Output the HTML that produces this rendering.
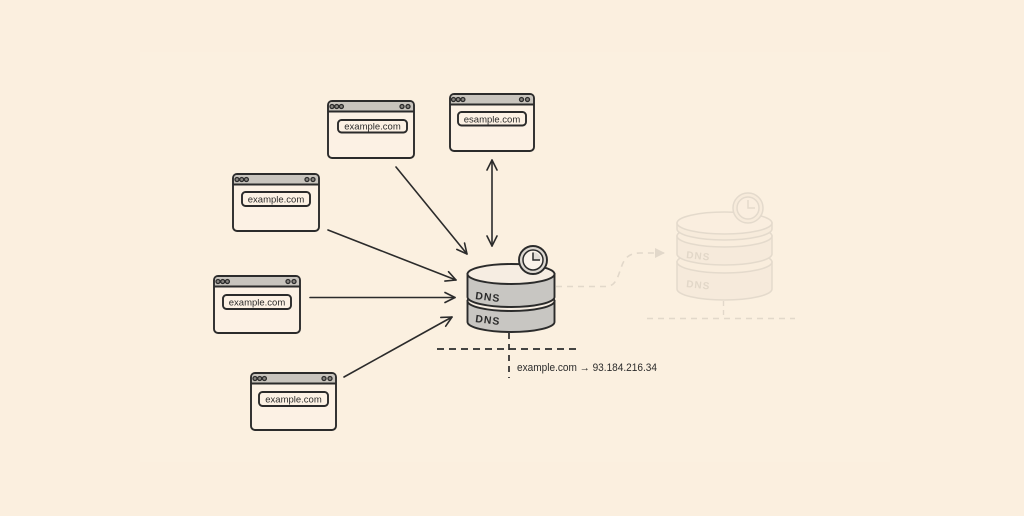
<!DOCTYPE html>
<html>
<head>
<meta charset="utf-8">
<style>
  html, body { margin: 0; padding: 0; }
  body { width: 1024px; height: 516px; background: #fbefdf; overflow: hidden; }
  svg { display: block; }
  text { font-family: "Liberation Sans", "DejaVu Sans", sans-serif; }
</style>
</head>
<body>
<svg width="1024" height="516" viewBox="0 0 1024 516" xmlns="http://www.w3.org/2000/svg">
  <defs>
    <marker id="ah" viewBox="0 0 12 12" refX="11" refY="6" markerWidth="12" markerHeight="12" markerUnits="userSpaceOnUse" orient="auto-start-reverse">
      <path d="M1,1 L11,6 L1,11" fill="none" stroke="#2b2b2b" stroke-width="1.6" stroke-linecap="round" stroke-linejoin="round"/>
    </marker>
    <marker id="ahf" viewBox="0 0 12 12" refX="10" refY="6" markerWidth="12" markerHeight="12" markerUnits="userSpaceOnUse" orient="auto">
      <path d="M1,1 L11,6 L1,11 Z" fill="#e2d8ca" stroke="none"/>
    </marker>
  </defs>

  <rect x="0" y="0" width="1024" height="516" fill="#fbefdf"/>
  <rect x="140" y="52" width="750" height="410" fill="#fcf0e1" opacity="0.6"/>

  <!-- Windows -->
  <g stroke="#2b2b2b" stroke-width="1.9" fill="#fcf1e4">
    <g>
      <rect x="328" y="101" width="86" height="57" rx="4"/>
      <path d="M329,111.5 L413,111.5 L413,105 Q413,102 410,102 L332,102 Q329,102 329,105 Z" fill="#c8c4bd" stroke="none"/>
      <line x1="328" y1="111.5" x2="414" y2="111.5"/>
      <rect x="338" y="120" width="69" height="12.5" rx="3.5"/>
    </g>
    <g>
      <rect x="450" y="94" width="84" height="57" rx="4"/>
      <path d="M451,104.5 L533,104.5 L533,98 Q533,95 530,95 L454,95 Q451,95 451,98 Z" fill="#c8c4bd" stroke="none"/>
      <line x1="450" y1="104.5" x2="534" y2="104.5"/>
      <rect x="458" y="112" width="68" height="13.5" rx="3.5"/>
    </g>
    <g>
      <rect x="233" y="174" width="86" height="57" rx="4"/>
      <path d="M234,184.5 L318,184.5 L318,178 Q318,175 315,175 L237,175 Q234,175 234,178 Z" fill="#c8c4bd" stroke="none"/>
      <line x1="233" y1="184.5" x2="319" y2="184.5"/>
      <rect x="242" y="192" width="68" height="14" rx="3.5"/>
    </g>
    <g>
      <rect x="214" y="276" width="86" height="57" rx="4"/>
      <path d="M215,286.5 L299,286.5 L299,280 Q299,277 296,277 L218,277 Q215,277 215,280 Z" fill="#c8c4bd" stroke="none"/>
      <line x1="214" y1="286.5" x2="300" y2="286.5"/>
      <rect x="223" y="295" width="68" height="14" rx="3.5"/>
    </g>
    <g>
      <rect x="251" y="373" width="85" height="57" rx="4"/>
      <path d="M252,383.5 L335,383.5 L335,377 Q335,374 332,374 L255,374 Q252,374 252,377 Z" fill="#c8c4bd" stroke="none"/>
      <line x1="251" y1="383.5" x2="336" y2="383.5"/>
      <rect x="259" y="392" width="69" height="14" rx="3.5"/>
    </g>
  </g>

  <!-- window dots -->
  <g fill="#8a8782" stroke="#2b2b2b" stroke-width="1.3">
    <circle cx="332" cy="106.5" r="2"/><circle cx="336.7" cy="106.5" r="2"/><circle cx="341.4" cy="106.5" r="2"/>
    <circle cx="402" cy="106.5" r="2"/><circle cx="408" cy="106.5" r="2"/>

    <circle cx="453.5" cy="99.5" r="2"/><circle cx="458.2" cy="99.5" r="2"/><circle cx="462.9" cy="99.5" r="2"/>
    <circle cx="521.5" cy="99.5" r="2"/><circle cx="527.5" cy="99.5" r="2"/>

    <circle cx="237" cy="179.5" r="2"/><circle cx="241.7" cy="179.5" r="2"/><circle cx="246.4" cy="179.5" r="2"/>
    <circle cx="307" cy="179.5" r="2"/><circle cx="313" cy="179.5" r="2"/>

    <circle cx="218" cy="281.5" r="2"/><circle cx="222.7" cy="281.5" r="2"/><circle cx="227.4" cy="281.5" r="2"/>
    <circle cx="288" cy="281.5" r="2"/><circle cx="294" cy="281.5" r="2"/>

    <circle cx="255" cy="378.5" r="2"/><circle cx="259.7" cy="378.5" r="2"/><circle cx="264.4" cy="378.5" r="2"/>
    <circle cx="324" cy="378.5" r="2"/><circle cx="330" cy="378.5" r="2"/>
  </g>

  <!-- URL texts -->
  <g font-size="9.5" fill="#2b2b2b" text-anchor="middle">
    <text x="372.5" y="129.5">example.com</text>
    <text x="492" y="122.3">esample.com</text>
    <text x="276" y="202.5">example.com</text>
    <text x="257" y="305.5">example.com</text>
    <text x="293.5" y="402.5">example.com</text>
  </g>

  <!-- Arrows -->
  <g stroke="#2b2b2b" stroke-width="1.6" fill="none" stroke-linecap="round">
    <line x1="396" y1="167" x2="467" y2="254" marker-end="url(#ah)"/>
    <line x1="492" y1="160" x2="492" y2="246" marker-start="url(#ah)" marker-end="url(#ah)"/>
    <line x1="328" y1="230" x2="456" y2="280" marker-end="url(#ah)"/>
    <line x1="310" y1="297.5" x2="455" y2="297.5" marker-end="url(#ah)"/>
    <line x1="344" y1="377" x2="452" y2="317" marker-end="url(#ah)"/>
  </g>

  <!-- Faded connections -->
  <g stroke="#e2d8ca" stroke-width="1.6" fill="none" stroke-dasharray="6 5">
    <path d="M556,286.5 L606,286.5 C616,286.5 618,276 621,268 C624,259 628,253 640,253 L664,253" marker-end="url(#ahf)"/>
    <line x1="647" y1="318.5" x2="795" y2="318.5"/>
  </g>
  <line x1="723.5" y1="301" x2="723.5" y2="318" stroke="#e2d8ca" stroke-width="1.4" stroke-dasharray="5 4"/>

  <!-- Faded cylinder -->
  <g stroke="#e4dacc" stroke-width="1.5">
    <path d="M677,262 L677,289 A47.5,11 0 0 0 772,289 L772,262 Z" fill="#f6eadb"/>
    <ellipse cx="724.5" cy="262" rx="47.5" ry="11" fill="#f9eddd"/>
    <path d="M677,236 L677,254 A47.5,11 0 0 0 772,254 L772,236 Z" fill="#f6eadb"/>
    <ellipse cx="724.5" cy="236" rx="47.5" ry="11" fill="#f9eddd"/>
    <path d="M677,223 L677,229 A47.5,11 0 0 0 772,229 L772,223 Z" fill="#f7ebdb"/>
    <ellipse cx="724.5" cy="223" rx="47.5" ry="11" fill="#faeedf"/>
    <circle cx="748" cy="208" r="15" fill="#f7ebdb"/>
    <circle cx="748" cy="208" r="11" fill="#faeedf"/>
    <path d="M748,200 L748,208 L755,208" fill="none"/>
  </g>
  <g font-size="10" font-weight="bold" fill="#e2d7c8" letter-spacing="1">
    <text x="686" y="258" transform="rotate(6 686 258)">DNS</text>
    <text x="686" y="287" transform="rotate(6 686 287)">DNS</text>
  </g>

  <!-- Main DNS cylinder -->
  <g stroke="#2b2b2b" stroke-width="1.9">
    <path d="M467.5,301 L467.5,322 A43.5,10 0 0 0 554.5,322 L554.5,301 Z" fill="#c8c6c2"/>
    <ellipse cx="511" cy="301" rx="43.5" ry="10" fill="#f6ede2"/>
    <path d="M467.5,274 L467.5,297 A43.5,10 0 0 0 554.5,297 L554.5,274 Z" fill="#c8c6c2"/>
    <ellipse cx="511" cy="274" rx="43.5" ry="10" fill="#f6ede2"/>
  </g>
  <!-- clock -->
  <g stroke="#2b2b2b">
    <circle cx="533" cy="260" r="14" fill="#ddd8d1" stroke-width="1.9"/>
    <circle cx="533" cy="260" r="10" fill="#faf3ea" stroke-width="1.5"/>
    <path d="M533,260 L533,252 A8,8 0 0 1 541,260 Z" fill="#e3ded7" stroke="none"/>
    <path d="M533,252.5 L533,260 L540,260" fill="none" stroke-width="1.5"/>
  </g>
  <g font-size="10.5" font-weight="bold" fill="#2b2b2b" letter-spacing="1">
    <text x="475" y="299" transform="rotate(7 475 299)">DNS</text>
    <text x="475" y="322" transform="rotate(7 475 322)">DNS</text>
  </g>

  <!-- Dashed lines under main cylinder -->
  <g stroke="#2b2b2b" stroke-width="1.7" fill="none">
    <line x1="437" y1="349" x2="580" y2="349" stroke-dasharray="7 5"/>
    <line x1="509" y1="333" x2="509" y2="378" stroke-dasharray="6 5"/>
  </g>
  <text x="517" y="371" font-size="11" fill="#2b2b2b" textLength="140" lengthAdjust="spacingAndGlyphs">example.com → 93.184.216.34</text>
</svg>
</body>
</html>
